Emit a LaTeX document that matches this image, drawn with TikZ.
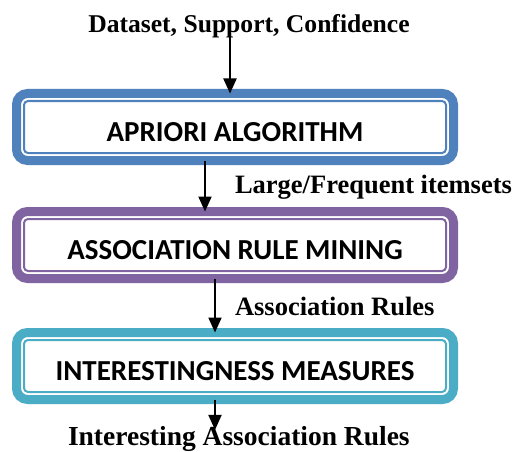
\documentclass[tikz,border=0pt]{standalone}
\usepackage{fontspec}
\setmainfont{Liberation Serif}
\newfontfamily\boxfont{Carlito}
\usetikzlibrary{arrows.meta,calc}
\definecolor{accblue}{HTML}{4F81BD}
\definecolor{accpurple}{HTML}{8064A2}
\definecolor{accteal}{HTML}{4BACC6}
\begin{document}
\begin{tikzpicture}[x=1pt,y=-1pt,
  flowbox/.style={draw=#1, line width=9pt, fill=white, rounded corners=11pt,
    minimum width=437pt, minimum height=67pt, inner sep=0pt, outer sep=0pt,
    font=\boxfont\bfseries\fontsize{29}{29}\selectfont,
    text height=29pt, text depth=0pt},
  lbl/.style={inner sep=0pt, outer sep=0pt, font=\bfseries\fontsize{#1}{#1}\selectfont},
  arr/.style={line width=2pt, -{Triangle[length=15pt,width=13pt]}},
  innerline/.style={draw=#1, line width=2pt, rounded corners=4pt}]

  % page
  \useasboundingbox (0,0) rectangle (517,452);
  \fill[white] (0,0) rectangle (517,452);

  % process boxes
  \node[flowbox=accblue]   (b1) at (235,127) {APRIORI ALGORITHM};
  \node[flowbox=accpurple] (b2) at (235,245) {ASSOCIATION RULE MINING};
  \node[flowbox=accteal]   (b3) at (235,366) {INTERESTINGNESS MEASURES};

  % thin inner frame of each box
  \foreach \n/\c in {b1/accblue,b2/accpurple,b3/accteal}
    \draw[innerline=\c] ($(\n.north west)+(7.5,7.5)$) rectangle ($(\n.south east)+(-7.5,-7.5)$);

  % data labels
  \node[lbl=25.6, anchor=base] (in) at (249,33) {Dataset, Support, Confidence};
  \node[lbl=26.5, anchor=base west] (l1) at (235,193) {Large/Frequent itemsets};
  \node[lbl=26.5, anchor=base west] (l2) at (235,315) {Association Rules};
  \node[lbl=27.5, anchor=base west] (out) at (68,445) {Interesting Association Rules};

  % flow arrows
  \coordinate (x0) at ($(b1.north)+(-5,0)$);
  \coordinate (x3) at ($(b3.south)+(-20,0)$);
  \draw[arr] ([yshift=-2pt]x0 |- in.base) -- (x0);
  \draw[arr] ($(b1.south)+(-30,0)$) -- ($(b2.north)+(-30,0)$);
  \draw[arr] ($(b2.south)+(-20,0)$) -- ($(b3.north)+(-20,0)$);
  \draw[arr, shorten >=-4pt] (x3) -- (x3 |- out.north);
\end{tikzpicture}
\end{document}
